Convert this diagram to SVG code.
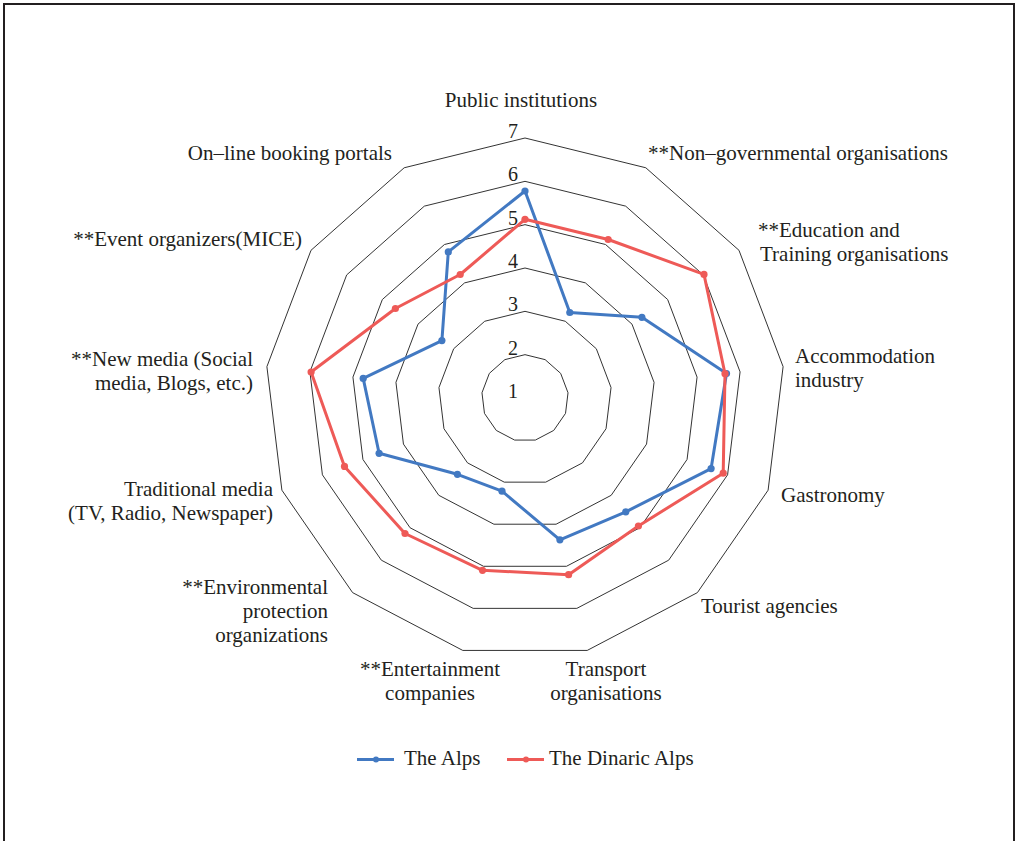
<svg xmlns="http://www.w3.org/2000/svg" width="1017" height="841" viewBox="0 0 1017 841">
<style>
text{font-family:"Liberation Serif","Times New Roman",serif;font-size:21px;fill:#231f20}
.ring{fill:none;stroke:#333;stroke-width:1;vector-effect:non-scaling-stroke}
.alps{fill:none;stroke:#4279c2;stroke-width:3;stroke-linejoin:round}
.din{fill:none;stroke:#ee5a57;stroke-width:3;stroke-linejoin:round}
.ma{fill:#4279c2}
.md{fill:#ee5a57}
.e{text-anchor:end}
.m{text-anchor:middle}
.t{font-size:20px}
</style>
<defs>
<polygon id="unit" class="ring" points="0,-100 46.47,-88.55 82.30,-56.81 99.27,-12.05 93.50,35.46 66.31,74.85 23.93,97.09 -23.93,97.09 -66.31,74.85 -93.50,35.46 -99.27,-12.05 -82.30,-56.81 -46.47,-88.55"/>
<circle id="dot" r="3.6"/>
</defs>
<rect x="4" y="4" width="1010" height="870" fill="none" stroke="#231f20" stroke-width="2"/>
<g id="grid">
<use href="#unit" transform="translate(525 398) scale(0.43333)"/>
<use href="#unit" transform="translate(525 398) scale(0.86667)"/>
<use href="#unit" transform="translate(525 398) scale(1.3)"/>
<use href="#unit" transform="translate(525 398) scale(1.73333)"/>
<use href="#unit" transform="translate(525 398) scale(2.16667)"/>
<use href="#unit" transform="translate(525 398) scale(2.6)"/>
</g>
<g id="ticks">
<text class="e t" x="518" y="398">1</text>
<text class="e t" x="518" y="354.7">2</text>
<text class="e t" x="518" y="311.3">3</text>
<text class="e t" x="518" y="268">4</text>
<text class="e t" x="518" y="224.7">5</text>
<text class="e t" x="518" y="181.3">6</text>
<text class="e t" x="518" y="138">7</text>
</g>
<g id="connectors">
<g id="series-alps">
<polygon class="alps" points="525,191 569.8,312.5 641.9,317.3 726.5,373.5 711.1,468.6 625.8,511.8 559.9,539.8 502,491.2 457.4,474.3 379.1,453.3 363.2,378.4 441.9,340.6 448.3,251.9"/>
<g class="ma">
<use href="#dot" x="525" y="191"/><use href="#dot" x="569.8" y="312.5"/><use href="#dot" x="641.9" y="317.3"/><use href="#dot" x="726.5" y="373.5"/><use href="#dot" x="711.1" y="468.6"/><use href="#dot" x="625.8" y="511.8"/><use href="#dot" x="559.9" y="539.8"/><use href="#dot" x="502" y="491.2"/><use href="#dot" x="457.4" y="474.3"/><use href="#dot" x="379.1" y="453.3"/><use href="#dot" x="363.2" y="378.4"/><use href="#dot" x="441.9" y="340.6"/><use href="#dot" x="448.3" y="251.9"/>
</g>
</g>
<g id="series-dinaric">
<polygon class="din" points="525,219.3 608.2,239.5 704,274.4 725,373.7 723.2,473.2 638.4,526 568.6,574.7 482.5,570.3 405,533.5 344.5,466.4 311.1,372 395.4,308.5 460.2,274.5"/>
<g class="md">
<use href="#dot" x="525" y="219.3"/><use href="#dot" x="608.2" y="239.5"/><use href="#dot" x="704" y="274.4"/><use href="#dot" x="725" y="373.7"/><use href="#dot" x="723.2" y="473.2"/><use href="#dot" x="638.4" y="526"/><use href="#dot" x="568.6" y="574.7"/><use href="#dot" x="482.5" y="570.3"/><use href="#dot" x="405" y="533.5"/><use href="#dot" x="344.5" y="466.4"/><use href="#dot" x="311.1" y="372"/><use href="#dot" x="395.4" y="308.5"/><use href="#dot" x="460.2" y="274.5"/>
</g>
</g>
</g>
<g id="labels">
<g id="n-public"><text class="m" x="521" y="107">Public institutions</text></g>
<g id="n-ngo"><text x="648" y="160">**Non–governmental organisations</text></g>
<g id="n-edu"><text x="758" y="237">**Education and</text><text x="760" y="261">Training organisations</text></g>
<g id="n-acc"><text x="795" y="363">Accommodation</text><text x="795" y="387">industry</text></g>
<g id="n-gas"><text x="781" y="502">Gastronomy</text></g>
<g id="n-tour"><text x="701" y="613">Tourist agencies</text></g>
<g id="n-trans"><text class="m" x="606" y="676">Transport</text><text class="m" x="606" y="700">organisations</text></g>
<g id="n-ent"><text class="m" x="430" y="676">**Entertainment</text><text class="m" x="430" y="700">companies</text></g>
<g id="n-env"><text class="e" x="328" y="594">**Environmental</text><text class="e" x="328" y="618">protection</text><text class="e" x="328" y="642">organizations</text></g>
<g id="n-trad"><text class="e" x="273" y="496">Traditional media</text><text class="e" x="273" y="520">(TV, Radio, Newspaper)</text></g>
<g id="n-new"><text class="e" x="253" y="366">**New media (Social</text><text class="e" x="253" y="390">media, Blogs, etc.)</text></g>
<g id="n-event"><text class="e" x="302" y="246">**Event organizers(MICE)</text></g>
<g id="n-online"><text class="e" x="392" y="160">On–line booking portals</text></g>
</g>
<g id="legend">
<line x1="357" y1="759.5" x2="394" y2="759.5" stroke="#4279c2" stroke-width="3"/>
<circle cx="376" cy="759.5" r="3" class="ma"/>
<text x="404" y="765">The Alps</text>
<line x1="507" y1="759.5" x2="544" y2="759.5" stroke="#ee5a57" stroke-width="3"/>
<circle cx="526" cy="759.5" r="3" class="md"/>
<text x="549" y="765">The Dinaric Alps</text>
</g>
</svg>
